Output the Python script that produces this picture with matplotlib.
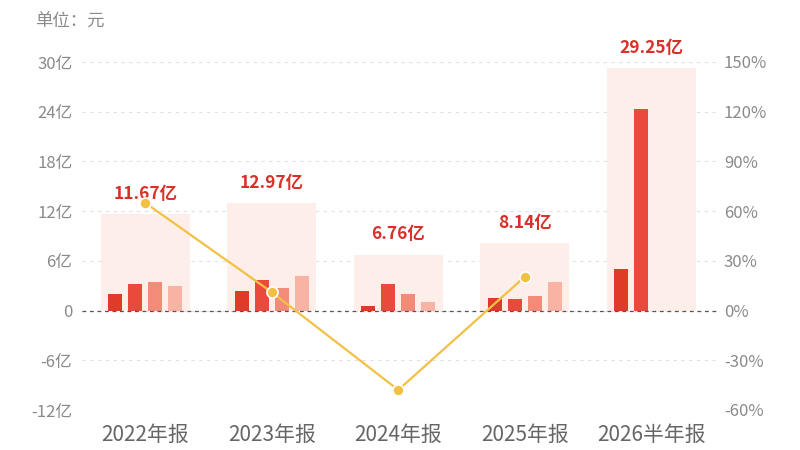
import numpy as np
import matplotlib
matplotlib.use("Agg")
import matplotlib.pyplot as plt

plt.rcParams['font.family'] = ['Noto Sans CJK SC', 'DejaVu Sans']

# data
periods = ['2022年报', '2023年报', '2024年报', '2025年报', '2026半年报']
totals = [11.67, 12.97, 6.76, 8.14, 29.25]          # 亿元
quarters = [
    [2.00, 3.20, 3.50, 2.97],
    [2.37, 3.68, 2.75, 4.17],
    [0.54, 3.25, 1.97, 1.00],
    [1.53, 1.45, 1.74, 3.42],
    [4.96, 24.29],
]
growth = [65.0, 11.1, -47.9, 20.4]                    # %
left_ticks = [-12, -6, 0, 6, 12, 18, 24, 30]
right_ticks = [-60, -30, 0, 30, 60, 90, 120, 150]

bar_colors = ['#e03a28', '#ea4a3c', '#f28b78', '#f9b3a4']
red = '#d8312a'
gray = '#8a8a8a'

fig = plt.figure(figsize=(8, 4.5), dpi=100)
ax = fig.add_axes([82/800, 1 - 410/450, (717 - 82)/800, (410 - 62)/450])
ax2 = ax.twinx()

x = np.arange(len(periods))

# background total bars
ax.bar(x, totals, width=0.705, color='#fdeee9', zorder=1)

# quarterly bars
offsets = [-0.237, -0.079, 0.079, 0.237]
for i, qs in enumerate(quarters):
    for j, v in enumerate(qs):
        ax.bar(x[i] + offsets[j], v, width=0.11, color=bar_colors[j], zorder=2)

# value labels
for i, t in enumerate(totals):
    ax.annotate(f'{t:.2f}亿', (x[i], t), xytext=(0, 8), textcoords='offset points',
                ha='center', va='bottom', color=red, fontsize=12.5, fontweight='bold',
                zorder=5)

ax.set_xlim(-0.5, 4.52)
ax.set_ylim(-12, 30)
ax.set_yticks(left_ticks)
ax.set_yticklabels([f'{v}亿' if v != 0 else '0' for v in left_ticks])
ax.set_xticks(x)
ax.set_xticklabels(periods)
ax.grid(axis='y', color='#e0e0e0', linestyle=(0, (3, 4)), linewidth=0.8, zorder=0)
ax.axhline(0, color='#555555', linestyle=(0, (3, 3)), linewidth=0.9, zorder=3)
ax.set_axisbelow(True)

ax2.set_ylim(-60, 150)
ax2.set_yticks(right_ticks)
ax2.set_yticklabels([f'{v}%' for v in right_ticks])
ax2.plot(x[:len(growth)], growth, color='#f2c144', linewidth=1.6, marker='o',
         markersize=8, markerfacecolor='#f2c144', markeredgecolor='white',
         markeredgewidth=1.2, zorder=6)

for a in (ax, ax2):
    for s in a.spines.values():
        s.set_visible(False)
    a.tick_params(length=0, colors=gray, labelsize=12)
ax.tick_params(axis='x', labelsize=15, pad=10, colors='#666666')
ax.tick_params(axis='y', pad=7)
ax2.tick_params(axis='y', pad=5)
ax.set_zorder(ax2.get_zorder() - 1)
ax.patch.set_visible(False)

fig.text(35/800, 1 - 22/450, '单位：元', color=gray, fontsize=12.5, va='center', ha='left')

fig.savefig('out.png', dpi=100)
